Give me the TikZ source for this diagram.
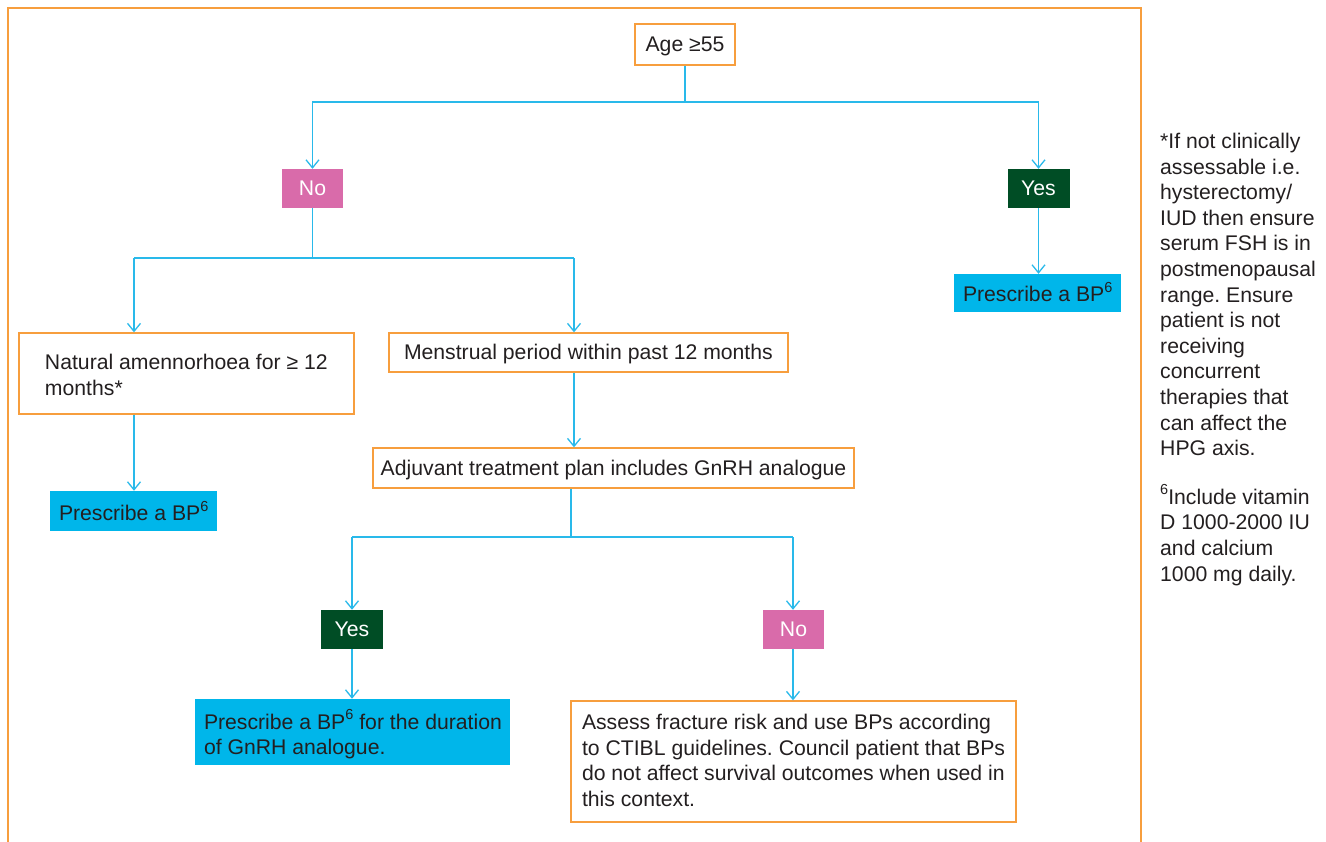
\documentclass[tikz,border=0pt]{standalone}
\usepackage{fontspec}
\setmainfont{Liberation Sans}
\usetikzlibrary{arrows.meta}
\definecolor{frameor}{RGB}{247,158,62}
\definecolor{linecy}{RGB}{41,185,234}
\definecolor{nopink}{RGB}{217,107,170}
\definecolor{yesgreen}{RGB}{0,77,37}
\definecolor{bpcyan}{RGB}{0,182,234}
\definecolor{txt}{RGB}{35,31,32}
\newcommand{\sixsup}{\raisebox{0.45em}{\fontsize{14.5}{14.5}\selectfont 6}}
\newcommand{\lbox}[3]{\raisebox{#2}[\height][\depth]{\makebox[#1][l]{\begin{tabular}{@{}l@{}}#3\end{tabular}}}}
\tikzset{
  every node/.style={font=\fontsize{21.2}{25.6}\selectfont\frenchspacing, text=txt},
  oneline/.style={text height=16pt, text depth=2pt},
  qbox/.style={draw=frameor, line width=1.3pt, fill=white, inner sep=0pt},
  nobox/.style={oneline, fill=nopink, text=white, inner sep=0pt, minimum width=61pt, minimum height=39pt},
  yesbox/.style={oneline, fill=yesgreen, text=white, inner sep=0pt, minimum width=62pt, minimum height=39pt},
  bpbox/.style={fill=bpcyan, inner sep=0pt},
  conn/.style={draw=linecy, line width=1.3pt},
  arr/.style={conn, -{Straight Barb[length=8pt, width=13pt, line width=1.3pt]}},
  framel/.style={draw=frameor, line width=2pt}
}
\begin{document}
\begin{tikzpicture}[x=1pt, y=-1pt]
\useasboundingbox (0,0) rectangle (1326,842);
% frame
\draw[framel] (8,842) -- (8,8) -- (1141,8) -- (1141,842);

% nodes
\node[qbox, oneline, minimum width=100pt, minimum height=41pt] (age) at (685,44.5) {Age ≥55};
\node[nobox] (no1) at (312.5,188.5) {No};
\node[yesbox] (yes1) at (1038.5,188.5) {Yes};
\node[bpbox, minimum width=167pt, minimum height=38pt, inner xsep=9pt] (bp2) at (1037.5,293) {\lbox{149pt}{-3pt}{Prescribe a BP\sixsup}};
\node[qbox, minimum width=335pt, minimum height=81pt, inner xsep=26pt] (nat) at (186.5,373.5) {\lbox{283pt}{-4pt}{Natural amennorhoea for ≥ 12\\months*}};
\node[qbox, minimum width=399pt, minimum height=39pt, inner xsep=15pt] (menst) at (588.5,352.5) {\lbox{369pt}{-2pt}{Menstrual period within past 12 months}};
\node[bpbox, minimum width=167pt, minimum height=40pt, inner xsep=9pt] (bp1) at (133.5,511) {\lbox{149pt}{-4pt}{Prescribe a BP\sixsup}};
\node[qbox, oneline, minimum width=481pt, minimum height=40pt] (adj) at (613.5,468) {Adjuvant treatment plan includes GnRH analogue};
\node[yesbox] (yes2) at (352,629.5) {Yes};
\node[nobox] (no2) at (793.5,629.5) {No};
\node[bpbox, minimum width=315pt, minimum height=66pt, inner xsep=9pt] (bp3) at (352.5,732) {\lbox{297pt}{-4pt}{Prescribe a BP\sixsup{} for the duration\\of GnRH analogue.}};
\node[qbox, minimum width=445pt, minimum height=121pt, inner xsep=11pt] (assess) at (793.5,761.5) {\lbox{423pt}{-1.5pt}{Assess fracture risk and use BPs according\\to CTIBL guidelines. Council patient that BPs\\do not affect survival outcomes when used in\\this context.}};

% side note
\node[anchor=north west, align=left, inner sep=0pt] (note) at (1160,133) {*If not clinically\\assessable i.e.\\hysterectomy/\\IUD then ensure\\serum FSH is in\\postmenopausal\\range. Ensure\\patient is not\\receiving\\concurrent\\therapies that\\can affect the\\HPG axis.\\[23pt]\sixsup Include vitamin\\D 1000-2000 IU\\and calcium\\1000 mg daily.};

% connectors
\coordinate (a1) at (685,102);
\draw[conn] (age.south) -- (a1);
\draw[arr] (a1) -| (no1.north);
\draw[arr] (a1) -| (yes1.north);
\draw[arr] (yes1.south) -- (yes1.south |- bp2.north);

\coordinate (c1) at (134,258);
\coordinate (c2) at (574,258);
\draw[conn] (no1.south) -- (no1.south |- c1);
\draw[conn] (c1) -- (c2);
\draw[arr] (c1) -- (c1 |- nat.north);
\draw[arr] (c2) -- (c2 |- menst.north);
\draw[arr] (c1 |- nat.south) -- (c1 |- bp1.north);
\draw[arr] (c2 |- menst.south) -- (c2 |- adj.north);

\coordinate (d0) at (571,537);
\coordinate (d1) at (352,537);
\coordinate (d2) at (793,537);
\draw[conn] (d0 |- adj.south) -- (d0);
\draw[conn] (d1) -- (d2);
\draw[arr] (d1) -- (d1 |- yes2.north);
\draw[arr] (d2) -- (d2 |- no2.north);
\draw[arr] (d1 |- yes2.south) -- (d1 |- bp3.north);
\draw[arr] (d2 |- no2.south) -- (d2 |- assess.north);
\end{tikzpicture}
\end{document}
